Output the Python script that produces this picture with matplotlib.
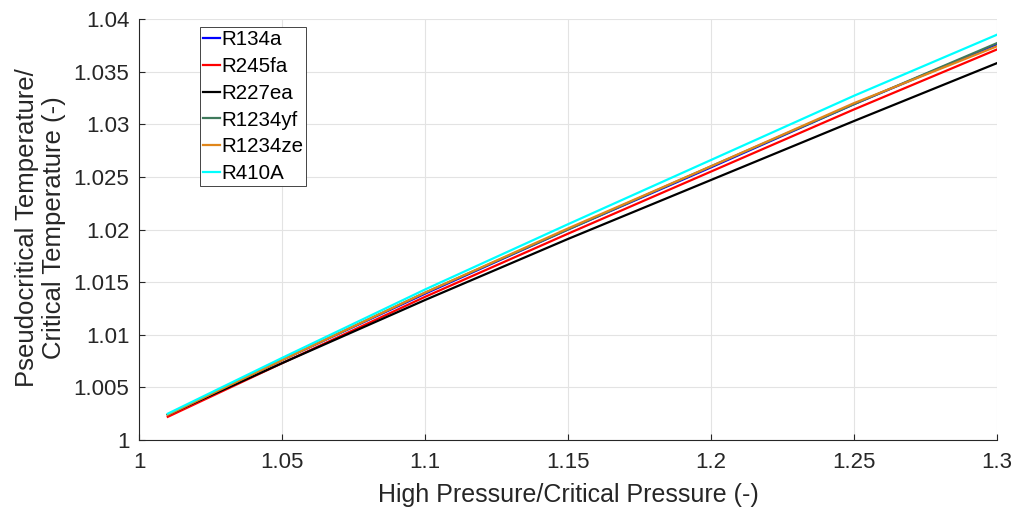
import matplotlib
matplotlib.use("Agg")
import matplotlib.pyplot as plt

plt.rcParams['font.family'] = ['Liberation Sans', 'DejaVu Sans']

x = [1.01, 1.05, 1.10, 1.15, 1.20, 1.25, 1.30]
r134a = [1.0024, 1.0076, 1.0139, 1.0200, 1.0259, 1.0319, 1.0376]
r245fa = [1.0022, 1.0073, 1.0136, 1.0196, 1.0255, 1.0314, 1.0371]
r227ea = [1.0024, 1.0073, 1.0133, 1.0191, 1.0247, 1.0303, 1.0358]
r1234yf = [1.0024, 1.0076, 1.0140, 1.0200, 1.0260, 1.0319, 1.0377]
r1234ze = [1.0024, 1.0076, 1.0140, 1.0201, 1.0260, 1.0320, 1.0374]
r410a = [1.0025, 1.0078, 1.0143, 1.0205, 1.0266, 1.0327, 1.0385]

series = [("R134a", r134a, "#0000FF"),
          ("R245fa", r245fa, "#FF0000"),
          ("R227ea", r227ea, "#000000"),
          ("R1234yf", r1234yf, "#3F7A5C"),
          ("R1234ze", r1234ze, "#E0861A"),
          ("R410A", r410a, "#00FFFF")]

xticks = [1, 1.05, 1.1, 1.15, 1.2, 1.25, 1.3]
xticklabels = ["1", "1.05", "1.1", "1.15", "1.2", "1.25", "1.3"]
yticks = [1, 1.005, 1.01, 1.015, 1.02, 1.025, 1.03, 1.035, 1.04]
yticklabels = ["1", "1.005", "1.01", "1.015", "1.02", "1.025", "1.03", "1.035", "1.04"]

fig = plt.figure(figsize=(10.16, 5.09), dpi=100)
ax = fig.add_axes([0.137, 0.1356, 0.844, 0.827])

for name, ys, c in series:
    ax.plot(x, ys, color=c, lw=1.6, label=name)

ax.set_xlim(1, 1.3)
ax.set_ylim(1, 1.04)
ax.set_xticks(xticks)
ax.set_xticklabels(xticklabels)
ax.set_yticks(yticks)
ax.set_yticklabels(yticklabels)
ax.grid(True, color="#e3e3e3", lw=0.8)
ax.set_axisbelow(True)
for s in ["top", "right"]:
    ax.spines[s].set_visible(False)
for s in ["left", "bottom"]:
    ax.spines[s].set_color("#262626")
    ax.spines[s].set_linewidth(0.8)
ax.tick_params(direction="in", length=4, labelsize=16, colors="#262626")
ax.tick_params(axis="x", pad=9)
ax.tick_params(axis="y", pad=7)

ax.set_xlabel("High Pressure/Critical Pressure (-)", fontsize=18, color="#262626")
ax.xaxis.set_label_coords(0.5006, -0.102)
ax.set_ylabel("Pseudocritical Temperature/\nCritical Temperature (-)", fontsize=18.5,
              color="#262626", linespacing=1.2)
ax.yaxis.set_label_coords(-0.115, 0.505)
ax.yaxis.label.set_va("center")

leg = ax.legend(loc="upper left", bbox_to_anchor=(0.0711, 0.981), fontsize=14.8,
                handlelength=0.8, handletextpad=0.08, borderpad=0.15, labelspacing=0.38,
                borderaxespad=0, fancybox=False, framealpha=1)
leg.get_frame().set_edgecolor("#262626")
leg.get_frame().set_linewidth(0.6)

fig.savefig("out.png", dpi=100)
